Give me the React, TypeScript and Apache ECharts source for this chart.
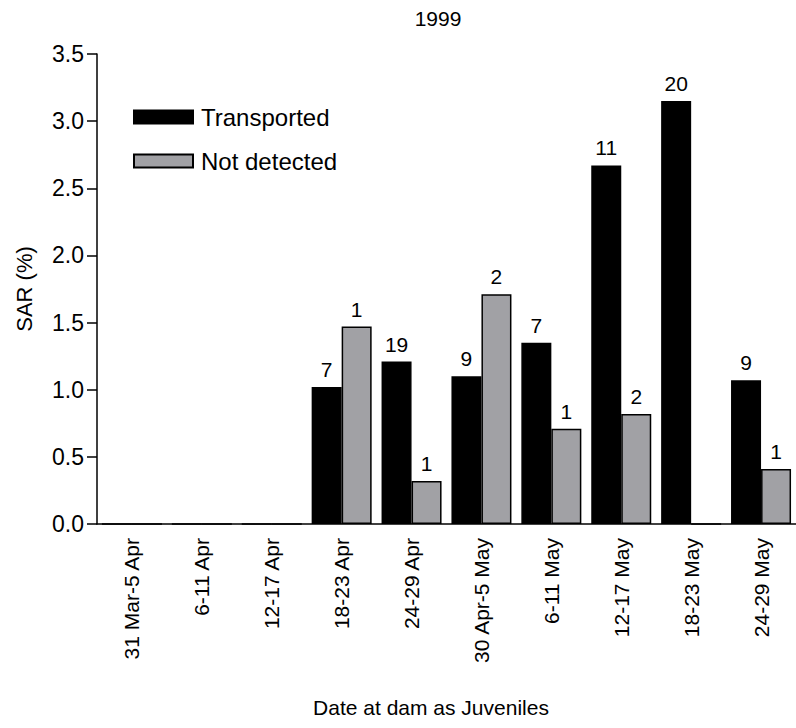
import React, { useEffect, useRef } from "react";
import * as echarts from "echarts";

const categories = [
  "31 Mar-5 Apr",
  "6-11 Apr",
  "12-17 Apr",
  "18-23 Apr",
  "24-29 Apr",
  "30 Apr-5 May",
  "6-11 May",
  "12-17 May",
  "18-23 May",
  "24-29 May",
];
const transported = [0, 0, 0, 1.02, 1.21, 1.1, 1.35, 2.67, 3.15, 1.07];
const notDetected = [0, 0, 0, 1.47, 0.32, 1.71, 0.71, 0.82, 0, 0.41];
const transportedCounts = [null, null, null, 7, 19, 9, 7, 11, 20, 9];
const notDetectedCounts = [null, null, null, 1, 1, 2, 1, 2, null, 1];
const yTicks = [0, 0.5, 1, 1.5, 2, 2.5, 3, 3.5];

const FONT = "Liberation Sans, Arial, sans-serif";

export default function App() {
  const ref = useRef<HTMLDivElement>(null);
  useEffect(() => {
    document.body.style.margin = "0";
    if (!ref.current) return;
    const chart = echarts.init(ref.current, undefined, { renderer: "svg" });
    const labelOf = (counts: (number | null)[]) => ({
      show: true,
      position: "top",
      distance: 7,
      color: "#000",
      fontSize: 21,
      fontFamily: FONT,
      formatter: (p: any) => {
        const c = counts[p.dataIndex];
        return c == null ? "" : String(c);
      },
    });
    chart.setOption({
      animation: false,
      textStyle: { fontFamily: FONT },
      title: {
        text: "1999",
        left: 433,
        top: 3,
        textAlign: "center",
        textStyle: { fontSize: 21, fontWeight: "normal", color: "#000", fontFamily: FONT },
      },
      legend: {
        orient: "vertical",
        left: 128,
        top: 100,
        itemWidth: 59,
        itemHeight: 13,
        itemGap: 20,
        icon: "rect",
        textStyle: { fontSize: 24, color: "#000", fontFamily: FONT, lineHeight: 24, padding: [0, 0, 0, 3] },
        data: ["Transported", "Not detected"],
      },
      grid: { left: 97, right: -3, top: 54, bottom: 204, containLabel: false },
      xAxis: {
        type: "category",
        data: categories,
        axisLine: { show: true, lineStyle: { color: "#000", width: 1.5 } },
        axisTick: { show: false },
        axisLabel: {
          rotate: 90,
          interval: 0,
          margin: 14,
          fontSize: 21,
          color: "#000",
          fontFamily: FONT,
        },
      },
      yAxis: {
        type: "value",
        min: 0,
        max: 3.5,
        interval: 0.5,
        name: "SAR (%)",
        nameLocation: "middle",
        nameGap: 62,
        nameTextStyle: { fontSize: 22, color: "#000", fontFamily: FONT },
        splitLine: { show: false },
        axisLine: { show: true, lineStyle: { color: "#000", width: 1.5 } },
        axisTick: { show: true, length: 10, lineStyle: { color: "#000", width: 1.5 } },
        axisLabel: {
          fontSize: 23,
          color: "#000",
          margin: 13,
          fontFamily: FONT,
          formatter: (v: number) => (yTicks.includes(v) ? v.toFixed(1) : ""),
        },
      },
      series: [
        {
          name: "Transported",
          type: "bar",
          data: transported,
          barWidth: 30,
          barGap: "0%",
          itemStyle: { color: "#000", borderColor: "#000", borderWidth: 1.5 },
          label: labelOf(transportedCounts),
        },
        {
          name: "Not detected",
          type: "bar",
          data: notDetected,
          barWidth: 30,
          barGap: "0%",
          itemStyle: { color: "#a1a1a5", borderColor: "#000", borderWidth: 1.5 },
          label: labelOf(notDetectedCounts),
        },
      ],
      graphic: [
        {
          type: "text",
          x: 431,
          y: 697,
          style: {
            text: "Date at dam as Juveniles",
            fontSize: 21,
            fill: "#000",
            fontFamily: FONT,
            align: "center",
          },
        },
      ],
    });
    return () => chart.dispose();
  }, []);
  return <div ref={ref} style={{ width: 796, height: 728 }} />;
}
